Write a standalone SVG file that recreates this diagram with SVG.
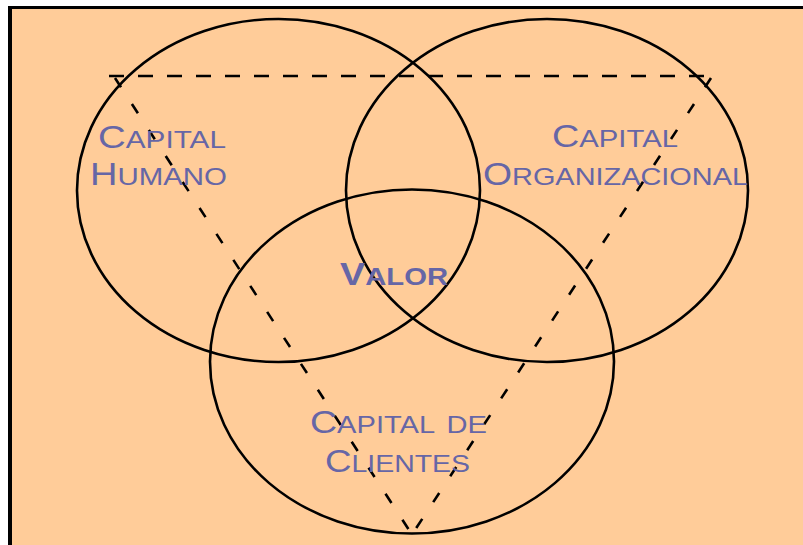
<svg xmlns="http://www.w3.org/2000/svg" width="803" height="545" viewBox="0 0 803 545">
  <style>
    .ring { fill: none; stroke: #000; stroke-width: 2.6; }
    .lbl { font-family: "Liberation Sans", Arial, sans-serif; font-size: 31px; font-variant: small-caps; fill: #6666A6; }
    .sc { font-size: 34px; }
    .bold { font-weight: bold; }
    .dash { fill: none; stroke: #000; stroke-width: 2.6; }
    .top { stroke-dasharray: 15 14; }
    .diag { stroke-dasharray: 11 20; }
  </style>
  <rect x="0" y="0" width="803" height="545" fill="#ffffff"/>
  <rect x="8" y="6" width="795" height="539" fill="#000000"/>
  <rect x="12" y="9" width="791" height="536" fill="#FFCC99"/>

  <g id="connectors">
    <line class="dash top" x1="109" y1="76" x2="716" y2="76"/>
    <line class="dash diag" x1="115" y1="78" x2="411" y2="533"/>
    <line class="dash diag" x1="711" y1="78" x2="413" y2="533"/>
  </g>

  <g id="capital-humano">
    <ellipse class="ring" cx="278.5" cy="190.5" rx="201.5" ry="171.5"/>
    <text class="lbl" x="98" y="148" textLength="128" lengthAdjust="spacingAndGlyphs">C<tspan class="sc">apital</tspan></text>
    <text class="lbl" x="90" y="185" textLength="137" lengthAdjust="spacingAndGlyphs">H<tspan class="sc">umano</tspan></text>
  </g>

  <g id="capital-organizacional">
    <ellipse class="ring" cx="547" cy="190.5" rx="201" ry="171.5"/>
    <text class="lbl" x="552" y="147" textLength="126" lengthAdjust="spacingAndGlyphs">C<tspan class="sc">apital</tspan></text>
    <text class="lbl" x="483" y="185" textLength="265" lengthAdjust="spacingAndGlyphs">O<tspan class="sc">rganizacional</tspan></text>
  </g>

  <g id="capital-clientes">
    <ellipse class="ring" cx="412" cy="361.5" rx="202" ry="172"/>
    <text class="lbl" x="310" y="433" textLength="177" lengthAdjust="spacingAndGlyphs">C<tspan class="sc">apital de</tspan></text>
    <text class="lbl" x="325" y="472" textLength="145" lengthAdjust="spacingAndGlyphs">C<tspan class="sc">lientes</tspan></text>
  </g>

  <g id="valor">
    <text class="lbl bold" x="340" y="285" textLength="108" lengthAdjust="spacingAndGlyphs">V<tspan class="sc">alor</tspan></text>
  </g>
</svg>
